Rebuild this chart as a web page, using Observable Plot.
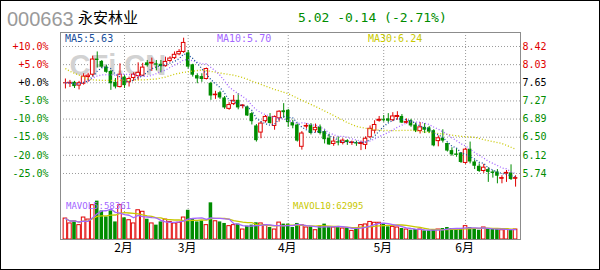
<!DOCTYPE html>
<html>
<head>
<meta charset="utf-8">
<script src="https://cdn.jsdelivr.net/npm/d3@7"></script>
<script src="https://cdn.jsdelivr.net/npm/@observablehq/plot@0.6"></script>
<style>
  html, body { margin: 0; padding: 0; background: #fff; }
  #wrap { position: relative; width: 600px; height: 270px; overflow: hidden; background: #fff; }
  .abs { position: absolute; white-space: nowrap; }
  #price { position: absolute; left: 0; top: 32px; }
  #vol { position: absolute; left: 0; top: 190px; }
  #frame { position: absolute; left: 60px; top: 32px; width: 461px; height: 208px; box-sizing: border-box; border: 1px solid #8c8c8c; pointer-events: none; }
  #border { position: absolute; left: 0; top: 0; width: 600px; height: 270px; box-sizing: border-box; border: 1px solid #000; pointer-events: none; }
  .mono { font-family: "DejaVu Sans Mono", monospace; }
</style>
</head>
<body>
<div id="wrap">
  <span class="abs" id="code" style="left:7px; top:9px; font:20px/20px 'Liberation Sans', Arial, sans-serif; color:#9a9a9a;"></span>
  <span class="abs" id="name" style="left:78px; top:9px; font:15px/15px 'Noto Sans CJK SC', sans-serif; color:#000;"></span>
  <span class="abs mono" id="quote" style="left:298px; top:11px; font-size:13px; line-height:13px; color:#008c00;"></span>
  <div id="price"></div>
  <div id="vol"></div>
  <span class="abs mono" id="lma5" style="left:65px; top:33px; font-size:10px; line-height:11px; color:#1a4f9c;"></span>
  <span class="abs mono" id="lma10" style="left:217px; top:33px; font-size:10px; line-height:11px; color:#a366ff;"></span>
  <span class="abs mono" id="lma30" style="left:368px; top:33px; font-size:10px; line-height:11px; color:#c8c800;"></span>
  <span class="abs mono" id="lmv5" style="left:66px; top:201px; font-size:9px; line-height:10px; color:#a366ff;"></span>
  <span class="abs mono" id="lmv10" style="left:293px; top:201px; font-size:9px; line-height:10px; color:#c8c800;"></span>
  <div id="frame"></div>
  <div id="border"></div>
</div>
<script>
// ---------- header / label texts ----------
const stockCode = "000663";
const stockName = "永安林业";
const quoteText = "5.02 -0.14 (-2.71%)";
const maLabels = ["MA5:5.63", "MA10:5.70", "MA30:6.24"];
const mavolLabels = ["MAVOL5:58361", "MAVOL10:62995"];

// ---------- daily candles ----------
const open = [7.65,7.64,7.66,7.59,7.63,7.77,7.82,8.15,8.10,7.98,
 7.89,7.66,7.56,7.77,7.66,7.75,7.79,7.80,8.07,8.06,
 8.05,8.04,8.00,8.11,8.17,8.25,8.30,8.28,8.03,7.80,
 7.78,7.73,7.64,7.39,7.44,7.33,7.10,7.20,7.28,7.16,
 7.14,7.00,6.74,6.60,6.84,6.93,6.74,6.90,7.06,7.07,
 6.81,6.76,6.30,6.73,6.76,6.65,6.72,6.62,6.48,6.36,
 6.41,6.38,6.43,6.38,6.39,6.36,6.34,6.50,6.64,6.85,
 6.88,6.89,6.86,6.93,6.94,6.81,6.85,6.76,6.63,6.71,
 6.70,6.64,6.42,6.48,6.37,6.22,6.15,6.17,5.96,6.25,
 5.98,5.89,5.79,5.82,5.77,5.77,5.63,5.74,5.75,5.63];
const close = [7.65,7.65,7.57,7.64,7.78,7.80,8.14,8.12,7.98,7.87,
 7.63,7.56,7.82,7.59,7.73,7.82,7.86,7.97,8.01,8.07,
 8.02,7.99,8.09,8.16,8.24,8.30,8.49,7.98,7.81,7.73,
 7.72,7.94,7.37,7.40,7.33,7.12,7.18,7.27,7.12,7.17,
 6.95,6.83,6.43,6.79,6.93,6.79,6.93,7.04,7.02,6.81,
 6.74,6.42,6.58,6.74,6.58,6.70,6.58,6.45,6.34,6.41,
 6.40,6.43,6.39,6.39,6.36,6.38,6.47,6.68,6.76,6.87,
 6.87,6.84,6.94,6.95,6.80,6.82,6.74,6.63,6.71,6.65,
 6.61,6.32,6.48,6.42,6.21,6.13,6.14,5.97,6.24,5.98,
 5.89,5.78,5.86,5.76,5.76,5.68,5.64,5.75,5.61,5.64];
const high = [7.73,7.70,7.68,7.68,7.84,7.85,8.21,8.30,8.12,8.02,
 7.91,7.74,8.05,7.80,7.77,7.86,8.07,8.06,8.12,8.17,
 8.12,8.12,8.19,8.20,8.30,8.35,8.59,8.33,8.04,7.84,
 7.84,7.96,7.66,7.47,7.47,7.36,7.23,7.38,7.42,7.19,
 7.16,7.03,6.77,6.83,6.96,7.00,6.95,7.06,7.21,7.09,
 6.86,6.78,6.62,6.79,6.79,6.78,6.76,6.67,6.56,6.51,
 6.51,6.47,6.45,6.42,6.42,6.42,6.51,6.74,6.85,6.94,
 6.96,7.00,7.02,7.04,6.98,6.89,6.88,6.80,6.81,6.79,
 6.73,6.66,6.53,6.66,6.38,6.28,6.26,6.18,6.27,6.40,
 6.02,5.94,5.93,5.86,5.80,5.82,5.69,5.80,5.92,5.69];
const low = [7.52,7.55,7.53,7.50,7.60,7.66,7.77,7.96,7.95,7.85,
 7.49,7.52,7.54,7.53,7.56,7.68,7.70,7.78,7.98,7.89,
 7.90,7.86,7.98,8.08,8.14,8.22,8.27,7.94,7.77,7.63,
 7.66,7.71,7.28,7.30,7.30,7.09,7.07,7.17,7.08,7.10,
 6.94,6.76,6.40,6.47,6.80,6.78,6.65,6.82,6.90,6.71,
 6.68,6.40,6.23,6.67,6.55,6.59,6.55,6.36,6.33,6.31,
 6.32,6.34,6.33,6.33,6.31,6.22,6.24,6.48,6.57,6.82,
 6.82,6.81,6.83,6.86,6.79,6.78,6.71,6.60,6.57,6.58,
 6.58,6.30,6.30,6.38,6.19,6.10,6.08,5.95,5.93,5.94,
 5.82,5.76,5.74,5.55,5.64,5.52,5.52,5.55,5.59,5.45];
const volume = [124000,95000,110000,85000,130000,118000,203000,227000,169000,134000,
 169000,104000,203000,128000,114000,95000,173000,164000,120000,95000,
 85000,104000,118000,104000,95000,99000,130000,173000,124000,104000,
 110000,85000,217000,108000,104000,95000,79000,85000,91000,59000,
 79000,85000,99000,95000,85000,71000,59000,100000,91000,91000,
 71000,95000,85000,71000,75000,55000,79000,91000,75000,71000,
 75000,65000,71000,51000,65000,85000,89000,104000,99000,99000,
 95000,75000,75000,71000,65000,59000,55000,59000,59000,51000,
 51000,59000,59000,65000,71000,65000,65000,65000,79000,71000,
 65000,55000,71000,65000,59000,59000,55000,59000,59000,59000];

// MA30 (trading-day index, value)
const ma30Day = [0,1,3,5,8,14,17,20,22,24,26,30,32,35,37,39,42,46,49,52,55,59,62,64,66,69,72,76,80,84,87,90,93,96,99];
const ma30Val = [7.95,7.89,7.81,7.72,7.70,7.70,7.71,7.73,7.77,7.83,7.87,7.92,7.89,7.84,7.81,7.76,7.65,7.51,7.42,7.28,7.15,6.96,6.81,6.73,6.69,6.65,6.64,6.65,6.60,6.56,6.52,6.50,6.43,6.37,6.25];

// month starts (trading-day index) and labels
const monthDay = [13, 27, 49, 70, 88];
const monthLabels = ["2月", "3月", "4月", "5月", "6月"];

// axis ticks
const basePrice = 7.65;
const pctTicks = [10, 5, 0, -5, -10, -15, -20, -25];
const pctLabels = ["+10.0%", "+5.0%", "+0.0%", "-5.0%", "-10.0%", "-15.0%", "-20.0%", "-25.0%"];
const priceLabels = ["8.42", "8.03", "7.65", "7.27", "6.89", "6.50", "6.12", "5.74"];

// ---------- styles ----------
const RED = "#e00000", GREEN = "#008c00", GRID = "#9a9a9a";
const BLUE = "#1a4f9c", PURPLE = "#a366ff", YELLOW = "#c8c800";
const DOT = "1,2";

// ---------- build tables ----------
const candles = open.map((o, i) => ({
  day: i, open: o, high: high[i], low: low[i], close: close[i], vol: volume[i],
  up: close[i] >= o
}));
const ups = candles.filter(d => d.up);
const downs = candles.filter(d => !d.up);
const dojis = candles.filter(d => Math.abs(d.close - d.open) <= 0.021);
const ma30 = ma30Day.map((d, i) => ({day: d, v: ma30Val[i]}));
const ticks = pctTicks.map((p, i) => ({
  y: basePrice * (1 + p / 100), left: pctLabels[i], right: priceLabels[i],
  c: p > 0 ? RED : p < 0 ? GREEN : "#000"
}));
const months = monthDay.map((d, i) => ({day: d, label: monthLabels[i]}));

const xOpts = {type: "band", domain: candles.map(d => d.day), paddingInner: 0.22, paddingOuter: 0.69, axis: null};

const pricePlot = Plot.plot({
  width: 600, height: 158,
  marginLeft: 60, marginRight: 80, marginTop: 0, marginBottom: 0,
  x: xOpts,
  y: {domain: [5.379, 8.71], axis: null},
  color: {type: "identity"},
  style: {fontFamily: "DejaVu Sans Mono, monospace", fontSize: "10px", background: "transparent", overflow: "visible"},
  marks: [
    Plot.ruleY(ticks, {y: "y", stroke: GRID, strokeDasharray: "1,2"}),
    Plot.ruleX(months, {x: "day", stroke: GRID, strokeDasharray: "1,2"}),
    Plot.text(["CFi.CN"], {text: d => d, frameAnchor: "top-left", dx: 9, dy: 33, lineAnchor: "middle", textAnchor: "start",
      fontSize: 29, fontWeight: "bold", fill: "#d2d2d2", fontFamily: "Liberation Sans, Arial, sans-serif"}),
    Plot.ruleX(candles, {x: "day", y1: "low", y2: "high", stroke: d => d.up ? RED : GREEN}),
    Plot.barY(ups, {x: "day", y1: "open", y2: "close", fill: "white", stroke: RED}),
    Plot.barY(downs, {x: "day", y1: "open", y2: "close", fill: GREEN}),
    Plot.tickY(dojis, {x: "day", y: "close", stroke: d => d.up ? RED : GREEN}),
    Plot.line(ma30, {x: "day", y: "v", stroke: YELLOW, strokeWidth: 1.3, strokeDasharray: DOT, strokeLinecap: "butt"}),
    Plot.line(candles, Plot.windowY({k: 10, anchor: "end"}, {x: "day", y: "close", stroke: PURPLE, strokeWidth: 1.3, strokeDasharray: DOT, strokeLinecap: "butt"})),
    Plot.line(candles, Plot.windowY({k: 5, anchor: "end"}, {x: "day", y: "close", stroke: BLUE, strokeWidth: 1.3, strokeDasharray: DOT, strokeLinecap: "butt"})),
    Plot.text(ticks, {y: "y", text: "left", fill: "c", frameAnchor: "left", textAnchor: "end", dx: -12, fontSize: 10}),
    Plot.text(ticks, {y: "y", text: "right", fill: "c", frameAnchor: "right", textAnchor: "start", dx: 2, fontSize: 10})
  ]
});
document.getElementById("price").appendChild(pricePlot);

const volPlot = Plot.plot({
  width: 600, height: 80,
  marginLeft: 60, marginRight: 80, marginTop: 0, marginBottom: 31,
  x: xOpts,
  y: {domain: [0, 290000], axis: null},
  style: {fontFamily: "'Noto Sans CJK SC', sans-serif", fontSize: "12px", background: "transparent", overflow: "visible"},
  marks: [
    Plot.ruleX(months, {x: "day", stroke: GRID, strokeDasharray: "1,2"}),
    Plot.barY(ups, {x: "day", y: "vol", fill: "white", stroke: RED}),
    Plot.barY(downs, {x: "day", y: "vol", fill: GREEN}),
    Plot.line(candles, Plot.windowY({k: 10, anchor: "end"}, {x: "day", y: "vol", stroke: YELLOW, strokeWidth: 1.3})),
    Plot.line(candles, Plot.windowY({k: 5, anchor: "end"}, {x: "day", y: "vol", stroke: PURPLE, strokeWidth: 1.3})),
    Plot.text(months, {x: "day", text: "label", frameAnchor: "bottom", dy: 9, dx: -1, lineAnchor: "middle", fill: "#000", fontSize: 12})
  ]
});
document.getElementById("vol").appendChild(volPlot);

document.getElementById("code").textContent = stockCode;
document.getElementById("name").textContent = stockName;
document.getElementById("quote").textContent = quoteText;
document.getElementById("lma5").textContent = maLabels[0];
document.getElementById("lma10").textContent = maLabels[1];
document.getElementById("lma30").textContent = maLabels[2];
document.getElementById("lmv5").textContent = mavolLabels[0];
document.getElementById("lmv10").textContent = mavolLabels[1];
</script>
</body>
</html>
